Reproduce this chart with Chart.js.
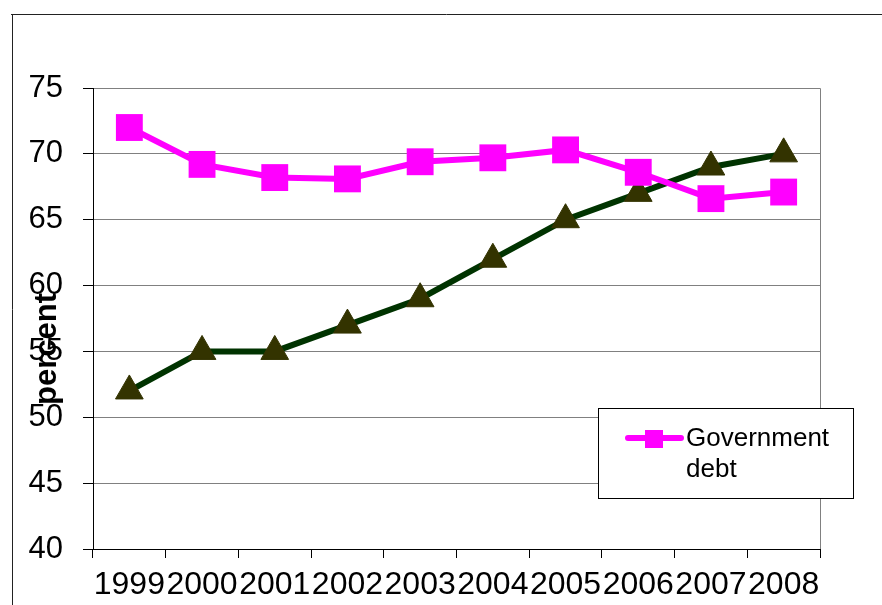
<!DOCTYPE html>
<html>
<head>
<meta charset="utf-8">
<script src="https://cdn.jsdelivr.net/npm/chart.js@4/dist/chart.umd.min.js"></script>
<style>
  html, body { margin: 0; padding: 0; background: #fff; }
  #wrap { width: 882px; height: 605px; position: relative; }
</style>
</head>
<body>
<div id="wrap"><canvas id="c" width="882" height="605"></canvas></div>
<script>
// data
const years = ['1999', '2000', '2001', '2002', '2003', '2004', '2005', '2006', '2007', '2008'];
const govDebt = [72, 69.2, 68.2, 68.1, 69.4, 69.7, 70.3, 68.6, 66.6, 67.1];
const otherSeries = [52, 55, 55, 57, 59, 62, 65, 67, 69, 70];
const yTicks = [40, 45, 50, 55, 60, 65, 70, 75];

const FONT = '"Liberation Sans", Arial, sans-serif';

// frame, plot border, y title and the little legend box
const decor = {
  id: 'decor',
  beforeDraw(chart) {
    const ctx = chart.ctx, a = chart.chartArea;
    ctx.save();
    ctx.strokeStyle = '#808080';
    ctx.lineWidth = 1;
    ctx.beginPath();
    ctx.moveTo(a.left, a.top + 0.5);
    ctx.lineTo(a.right + 0.5, a.top + 0.5);
    ctx.lineTo(a.right + 0.5, a.bottom);
    ctx.stroke();
    ctx.strokeStyle = '#222';
    ctx.beginPath();
    ctx.moveTo(11, 14.5);
    ctx.lineTo(882, 14.5);
    ctx.moveTo(12.5, 14);
    ctx.lineTo(12.5, 605);
    ctx.stroke();
    ctx.restore();
  },
  afterDraw(chart) {
    const ctx = chart.ctx;
    ctx.save();
    // y title
    ctx.translate(47, 349);
    ctx.rotate(-Math.PI / 2);
    ctx.font = 'bold 31px ' + FONT;
    ctx.fillStyle = '#000';
    ctx.textAlign = 'center';
    ctx.textBaseline = 'middle';
    ctx.fillText('percent', 0, 0);
    ctx.restore();

    // legend
    ctx.save();
    ctx.fillStyle = '#fff';
    ctx.fillRect(598.5, 408.5, 255, 90);
    ctx.strokeStyle = '#000';
    ctx.lineWidth = 1;
    ctx.strokeRect(598.5, 408.5, 255, 90);
    ctx.strokeStyle = '#FF00FF';
    ctx.lineWidth = 6;
    ctx.lineCap = 'round';
    ctx.beginPath();
    ctx.moveTo(628, 438);
    ctx.lineTo(681, 438);
    ctx.stroke();
    ctx.fillStyle = '#FF00FF';
    ctx.fillRect(645, 430, 18, 18);
    ctx.fillStyle = '#000';
    ctx.font = '26px ' + FONT;
    ctx.textBaseline = 'middle';
    ctx.textAlign = 'left';
    ctx.fillText('Government', 686, 439);
    ctx.fillText('debt', 686, 470);
    ctx.restore();
  }
};

new Chart(document.getElementById('c'), {
  type: 'line',
  data: {
    labels: years,
    datasets: [
      {
        label: 'Government debt',
        data: govDebt,
        borderColor: '#FF00FF',
        backgroundColor: '#FF00FF',
        borderWidth: 6,
        pointStyle: 'rect',
        pointRadius: 19,
        pointBorderWidth: 0,
        pointBackgroundColor: '#FF00FF',
        tension: 0
      },
      {
        label: 'other',
        data: otherSeries,
        borderColor: '#003300',
        backgroundColor: '#333300',
        borderWidth: 6,
        pointStyle: 'triangle',
        pointRadius: 16,
        pointBorderWidth: 1,
        pointBorderColor: '#333300',
        pointBackgroundColor: '#333300',
        tension: 0
      }
    ]
  },
  options: {
    responsive: false,
    animation: false,
    events: [],
    layout: { padding: { left: 0, right: 62, top: 88, bottom: 0 } },
    plugins: { legend: { display: false }, tooltip: { enabled: false } },
    scales: {
      x: {
        type: 'category',
        offset: true,
        grid: { offset: true, drawOnChartArea: false, tickColor: '#000', tickLength: 9 },
        border: { color: '#000', width: 1 },
        ticks: {
          color: '#000',
          font: { family: FONT, size: 32 },
          padding: 8,
          autoSkip: false,
          maxRotation: 0
        },
        afterFit(s) { s.height = 56; }
      },
      y: {
        min: 40,
        max: 75,
        afterBuildTicks(s) { s.ticks = yTicks.map(v => ({ value: v })); },
        grid: { color: '#808080', tickColor: '#000', tickLength: 10 },
        border: { color: '#000', width: 1 },
        ticks: {
          color: '#000',
          font: { family: FONT, size: 31 },
          padding: 20
        },
        afterFit(s) { s.width = 93; }
      }
    }
  },
  plugins: [decor]
});
</script>
</body>
</html>
